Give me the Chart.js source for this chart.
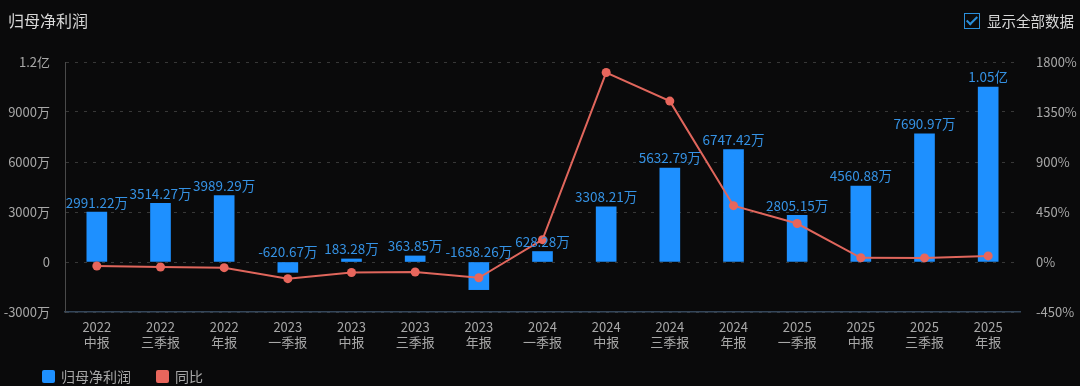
<!DOCTYPE html>
<html>
<head>
<meta charset="utf-8">
<script src="https://cdn.jsdelivr.net/npm/chart.js@4.4.1/dist/chart.umd.min.js"></script>
<style>
  html, body { margin: 0; padding: 0; background: #0a0a0b; }
  body { width: 1080px; height: 386px; position: relative; overflow: hidden;
         font-family: "Noto Sans CJK SC", "Noto Sans", sans-serif; }
  #wrap { position: absolute; left: 0; top: 0; width: 1080px; height: 386px; }
  .title { position: absolute; left: 8px; top: 8px; font-size: 16px; color: #d8d8d8; }
  .toggle { position: absolute; left: 964px; top: 10px; font-size: 14.5px; color: #d8d8d8; display: flex; align-items: center; }
  .box { width: 14px; height: 14px; border: 1.5px solid #2a8fdc; margin-right: 7px; position: relative; }
  .box:after { content: ''; position: absolute; left: 4px; top: 0px; width: 4px; height: 9px;
               border: solid #2a8fdc; border-width: 0 2px 2px 0; transform: rotate(45deg); }
  .legend { position: absolute; left: 42px; top: 366px; font-size: 14px; color: #a8a8a8; display: flex; align-items: center; }
  .legend span.sw { display: inline-block; width: 13px; height: 13px; border-radius: 2px; margin-right: 6px; }
  .legend .item { display: flex; align-items: center; margin-right: 25px; }
</style>
</head>
<body>
<div id="wrap"><canvas id="chart" width="1080" height="386"></canvas></div>
<div class="title">归母净利润</div>
<div class="toggle"><div class="box"></div>显示全部数据</div>
<div class="legend">
  <div class="item"><span class="sw" style="background:#1e90ff"></span>归母净利润</div>
  <div class="item"><span class="sw" style="background:#e8665c"></span>同比</div>
</div>
<script>
const categories = [
  ['2022', '中报'], ['2022', '三季报'], ['2022', '年报'],
  ['2023', '一季报'], ['2023', '中报'], ['2023', '三季报'], ['2023', '年报'],
  ['2024', '一季报'], ['2024', '中报'], ['2024', '三季报'], ['2024', '年报'],
  ['2025', '一季报'], ['2025', '中报'], ['2025', '三季报'], ['2025', '年报']
]
// 归母净利润, unit: 万
const profit = [2991.22, 3514.27, 3989.29, -620.67, 183.28, 363.85, -1658.26,
  628.28, 3308.21, 5632.79, 6747.42, 2805.15, 4560.88, 7690.97, 10500]
// 同比, unit: %
const yoy = [-36, -45, -51, -150, -94, -90, -142, 201, 1705, 1448, 507, 346, 38, 37, 55]

const leftTicks = [-3000, 0, 3000, 6000, 9000, 12000]
const rightTicks = [-450, 0, 450, 900, 1350, 1800]

function fmtMoney(v) {
  if (Math.abs(v) >= 10000) return (v / 10000).toFixed(2) + '亿'
  return v.toFixed(2) + '万'
}

function fmtLeftTick(v) {
  if (v === 0) return '0'
  if (Math.abs(v) >= 10000) return (v / 10000) + '亿'
  return v + '万'
}

// value labels above each bar (negative bars get theirs above the zero line)
const barLabels = {
  id: 'barLabels',
  afterDatasetsDraw(chart) {
    const { ctx } = chart
    const meta = chart.getDatasetMeta(1)
    const zeroY = chart.scales.y.getPixelForValue(0)
    ctx.save()
    ctx.font = '13.5px "Noto Sans CJK SC", sans-serif'
    ctx.fillStyle = '#3592e4'
    ctx.textAlign = 'center'
    ctx.textBaseline = 'bottom'
    meta.data.forEach((bar, i) => {
      const top = Math.min(bar.y, zeroY)
      ctx.fillText(fmtMoney(profit[i]), bar.x, top - 3)
    })
    ctx.restore()
  }
}

const ctx = document.getElementById('chart').getContext('2d')
new Chart(ctx, {
  type: 'bar',
  data: {
    labels: categories,
    datasets: [
      {
        type: 'line',
        label: '同比',
        data: yoy,
        yAxisID: 'y1',
        borderColor: '#e0665c',
        backgroundColor: '#e8665c',
        borderWidth: 2,
        pointRadius: 4.5,
        pointHoverRadius: 4.5,
        pointBorderWidth: 0,
        tension: 0,
        order: 0
      },
      {
        type: 'bar',
        label: '归母净利润',
        data: profit,
        yAxisID: 'y',
        backgroundColor: '#1e90ff',
        barThickness: 20,
        order: 1
      }
    ]
  },
  options: {
    responsive: false,
    animation: false,
    layout: { padding: { top: 62, left: 0, right: 0, bottom: 0 } },
    plugins: {
      legend: { display: false },
      tooltip: { enabled: false }
    },
    scales: {
      x: {
        grid: { display: false, drawTicks: false },
        border: { display: true, color: '#34465a', width: 1.5 },
        ticks: { color: '#a8a8a8', font: { size: 13, family: '"Noto Sans CJK SC", sans-serif', lineHeight: 1.15 }, padding: 8, maxRotation: 0, autoSkip: false },
        afterFit(scale) { scale.height = 74 }
      },
      y: {
        position: 'left',
        min: -3000,
        max: 12000,
        afterBuildTicks(scale) { scale.ticks = leftTicks.map(v => ({ value: v })) },
        grid: { color: '#383838', drawTicks: false, lineWidth: 1 },
        border: { display: true, color: '#4a4a4a', dash: [3, 6] },
        ticks: { color: '#a8a8a8', font: { size: 13, family: '"Noto Sans CJK SC", sans-serif' }, padding: 15, callback: fmtLeftTick },
        afterFit(scale) { scale.width = 65 }
      },
      y1: {
        position: 'right',
        min: -450,
        max: 1800,
        afterBuildTicks(scale) { scale.ticks = rightTicks.map(v => ({ value: v })) },
        grid: { display: false, drawTicks: false },
        border: { display: false },
        ticks: { color: '#a8a8a8', font: { size: 13, family: '"Noto Sans CJK SC", sans-serif' }, padding: 16, callback: v => v + '%' },
        afterFit(scale) { scale.width = 60 }
      }
    }
  },
  plugins: [barLabels]
})
</script>
</body>
</html>
